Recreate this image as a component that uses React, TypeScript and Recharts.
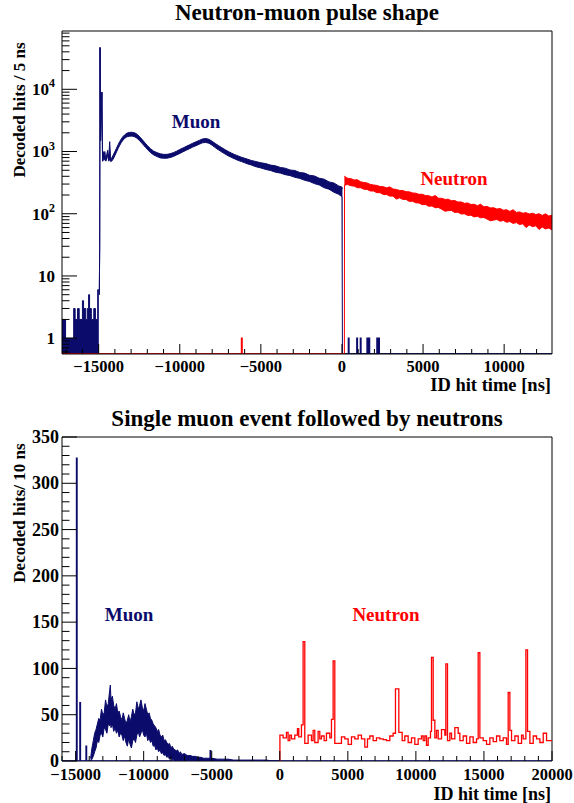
import React from "react";
import { ComposedChart, Area, Line, XAxis, YAxis, ReferenceArea } from "recharts";

const NAVY = "#0b0b6b";
const RED = "#ff0000";
const FONT = '"Liberation Serif", "Times New Roman", Times, serif';

// ---------- top panel: pulse shape, 5 ns bins, log scale ----------
const topXRange = [-17260, 12950];
const topYRange = [0.557, 86500];
const topXMajor = [-15000, -10000, -5000, 0, 5000, 10000];
const topXLabels = ["\u221215000", "\u221210000", "\u22125000", "0", "5000", "10000"];
const topYMajor = [1, 10, 100, 1000, 10000];
const topYLabels = ["1", "10", "10^2", "10^3", "10^4"];

// pre-trigger counts (filled histogram at the bottom)
const muLowT = [-17260, -17040, -16540, -16450, -16300, -16200, -16000, -15930, -15800, -15700, -15620, -15560, -15450, -15300, -15200, -15060, -14990];
const muLowHi = [2, 1, 3, 2, 3, 2, 4, 3, 2, 3, 5, 3, 2, 3, 2, 6, 6];

// muon pulse: band low / high edge
const muBandT = [
  -14960, -14935, -14915, -14880, -14800, -14760, -14720, -14680, -14620, -14560, -14500, -14440, -14380, -14320, -14260, -14200,
  -14100, -14000, -13900, -13800, -13700, -13600, -13500, -13400, -13300, -13200, -13100, -13000, -12900, -12800, -12700, -12600,
  -12500, -12400, -12300, -12200, -12100, -12000, -11800, -11600, -11400, -11200, -11000, -10800, -10600, -10400, -10200, -10000,
  -9800, -9600, -9400, -9200, -9000, -8800, -8600, -8400, -8200, -8000, -7800, -7600, -7400, -7200, -7000, -6800,
  -6600, -6400, -6200, -6000, -5800, -5600, -5400, -5200, -5000, -4700, -4400, -4100, -3800, -3500, -3200, -2900,
  -2600, -2300, -2000, -1700, -1400, -1100, -800, -500, -200, 0, 30,
];
const muBandLo = [
  5, 30, 47000, 1500, 9000, 700, 950, 720, 780, 700, 760, 900, 700, 760, 690, 700,
  760, 860, 980, 1120, 1260, 1400, 1520, 1620, 1700, 1740, 1760, 1770, 1760, 1730, 1680, 1600,
  1520, 1420, 1330, 1240, 1160, 1080, 960, 880, 830, 790, 780, 780, 800, 830, 880, 930,
  990, 1050, 1110, 1180, 1240, 1310, 1380, 1400, 1360, 1260, 1150, 1060, 980, 910, 850, 800,
  760, 720, 690, 660, 630, 610, 580, 560, 545, 515, 495, 465, 450, 425, 410, 385,
  370, 345, 330, 305, 290, 262, 248, 222, 205, 188, 0,
];
const muBandHi = [
  5, 30, 47000, 1500, 9000, 700, 1000, 800, 1000, 760, 900, 1050, 760, 1440, 760, 780,
  880, 1000, 1130, 1290, 1450, 1600, 1740, 1850, 1940, 2000, 2030, 2040, 2030, 2000, 1950, 1860,
  1760, 1650, 1540, 1430, 1340, 1250, 1110, 1010, 960, 920, 900, 900, 920, 960, 1010, 1080,
  1140, 1210, 1280, 1360, 1430, 1510, 1590, 1620, 1570, 1460, 1340, 1240, 1150, 1070, 1000, 940,
  890, 850, 810, 780, 750, 720, 700, 680, 660, 640, 605, 590, 555, 540, 505, 495,
  460, 450, 415, 405, 372, 360, 325, 312, 280, 268, 250,
];

// stray hits after the muon gate
const muTailT = [30, 400, 430, 920, 950, 1140, 1170, 1550, 1700, 2160, 2300, 12950];
const muTailHi = [0, 1, 0, 1, 0, 1, 0, 1, 0, 1, 0, 0];

// neutron histogram before the gate (empty except one hit)
const nuHeadT = [-17260, -6190, -6160, 150];
const nuHeadHi = [0, 1, 0, 0];

// neutron band
const nuBandT = [
  150, 160, 350, 550, 750, 950, 1150, 1350, 1550, 1750, 1950, 2150, 2350, 2550, 2750, 2950, 3150,
  3350, 3550, 3750, 3950, 4150, 4350, 4550, 4750, 4950, 5150, 5350, 5550, 5750, 5950, 6150, 6350,
  6550, 6750, 6950, 7150, 7350, 7550, 7750, 7950, 8150, 8350, 8550, 8750, 8950, 9150, 9350, 9550,
  9750, 9950, 10150, 10350, 10550, 10750, 10950, 11150, 11350, 11550, 11750, 11950, 12150, 12350, 12550, 12750,
  12950,
];
const nuBandLo = [
  0, 288, 295, 282, 278, 262, 262, 248, 246, 232, 232, 218, 218, 204, 204, 192, 192,
  172, 180, 170, 170, 158, 159, 150, 149, 140, 141, 132, 133, 125, 126, 118, 110,
  112, 113, 105, 106, 99, 100, 94, 95, 89, 91, 86, 87, 82, 77, 79, 81,
  76, 78, 73, 75, 70, 72, 67, 69, 60, 66, 62, 64, 56, 61, 57, 59,
  55,
];
const nuBandHi = [
  405, 398, 372, 366, 349, 352, 326, 318, 312, 296, 290, 285, 274, 272, 261, 270, 249,
  246, 237, 236, 226, 225, 216, 214, 205, 206, 196, 195, 186, 196, 178, 177, 170,
  171, 162, 163, 154, 155, 147, 149, 141, 142, 135, 142, 129, 131, 124, 125, 119,
  121, 114, 116, 109, 116, 105, 107, 102, 104, 99, 102, 97, 100, 94, 100, 92,
  95,
];

// ---------- bottom panel: single event, 10 ns bins, linear ----------
const botXRange = [-16000, 20000];
const botYRange = [0, 350];
const botXMajor = [-15000, -10000, -5000, 0, 5000, 10000, 15000, 20000];
const botXLabels = ["\u221215000", "\u221210000", "\u22125000", "0", "5000", "10000", "15000", "20000"];
const botYMajor = [0, 50, 100, 150, 200, 250, 300, 350];
const botYLabels = ["0", "50", "100", "150", "200", "250", "300", "350"];

const muEvtT = [-16000, -14930, -14900, -14680, -14650, -14230, -14200, -5110, -5080, 20000];
const muEvtV = [0, 327, 0, 63, 0, 16, 0, 11, 0, 0];

const muHumpT = [
  -13900, -13800, -13700, -13600, -13500, -13400, -13300, -13200, -13100, -13000, -12900, -12800, -12700, -12600, -12500, -12450,
  -12400, -12300, -12200, -12100, -12000, -11900, -11800, -11700, -11600, -11500, -11400, -11300, -11200, -11100, -11000, -10900,
  -10800, -10700, -10600, -10500, -10400, -10300, -10200, -10100, -10000, -9900, -9800, -9700, -9600, -9500, -9400, -9300,
  -9200, -9100, -9000, -8900, -8800, -8700, -8600, -8500, -8400, -8300, -8200, -8100, -8000, -7900, -7800, -7700,
  -7600, -7500, -7400, -7300, -7200, -7000, -6800, -6600, -6400, -6200, -6000, -5800, -5600, -5400, -5200, -5000,
  -4600, -4200, -3800, -3400, -3000, -2500, -2000, -1500, -1000, -500, 0,
];
const muHumpLo = [
  0, 2, 5, 10, 14, 22, 20, 28, 30, 26, 36, 34, 30, 40, 38, 42,
  36, 40, 32, 36, 30, 33, 26, 30, 28, 22, 27, 20, 16, 24, 18, 14,
  22, 24, 20, 28, 32, 26, 30, 34, 28, 26, 30, 22, 25, 20, 22, 16,
  17, 12, 14, 10, 12, 8, 9, 6, 7, 4, 5, 2, 3, 1, 2, 0,
  0, 0, 0, 0, 0, 0, 0, 0, 0, 0, 0, 0, 0, 0, 0, 0,
  0, 0, 0, 0, 0, 0, 0, 0, 0, 0, 0,
];
const muHumpHi = [
  3, 14, 22, 30, 34, 40, 46, 44, 56, 50, 52, 66, 58, 62, 76, 82,
  66, 70, 60, 56, 62, 52, 54, 48, 44, 52, 46, 40, 44, 50, 42, 48,
  56, 50, 52, 64, 56, 60, 66, 58, 54, 62, 56, 50, 52, 46, 44, 40,
  38, 36, 32, 34, 28, 26, 28, 22, 23, 20, 18, 19, 14, 16, 13, 12,
  11, 12, 8, 10, 7, 8, 6, 6, 5, 5, 4, 4, 3, 3, 3, 3,
  2, 2, 2, 1, 1, 1, 1, 1, 1, 0, 0,
];

const nuEvtT = [
  0, 10, 245, 490, 612, 735, 857, 1102, 1298, 1396, 1592, 1715, 1837, 2082, 2327, 2450, 2572, 2817, 2940, 3062,
  3258, 3430, 3675, 3797, 3920, 4042, 4532, 4777, 5022, 5267, 5512, 5757, 6002, 6247, 6443, 6615, 6860, 7105, 7350, 7595,
  7840, 8085, 8330, 8500, 8746, 8991, 9187, 9432, 9677, 9922, 10167, 10412, 10535, 10657, 10780, 10902, 11074, 11147, 11270, 11392,
  11515, 11637, 11882, 12127, 12201, 12323, 12495, 12617, 12862, 13107, 13230, 13475, 13720, 13965, 14210, 14455, 14577, 14700, 14945, 15190,
  15435, 15680, 15925, 16170, 16415, 16660, 16782, 16905, 17027, 17272, 17517, 17762, 17885, 18081, 18203, 18375, 18620, 18865, 19110, 19355,
  19600, 20000,
];
const nuEvtV = [
  0, 28, 25, 31, 22, 28, 24, 28, 35, 26, 39, 129, 19, 28, 22, 33, 20, 32, 24, 27,
  22, 30, 25, 45, 108, 19, 26, 24, 18, 26, 24, 28, 24, 15, 24, 27, 22, 25, 24, 23,
  22, 27, 30, 78, 31, 22, 27, 20, 25, 18, 24, 27, 22, 27, 17, 25, 32, 112, 44, 25,
  33, 24, 34, 28, 105, 22, 30, 24, 36, 30, 22, 27, 19, 26, 20, 24, 117, 25, 22, 18,
  25, 21, 27, 22, 25, 18, 74, 33, 22, 27, 19, 28, 24, 120, 32, 19, 27, 24, 20, 30,
  22, 22,
];

// ---------- helpers ----------
const floorLog = (v: number) => (v <= 0 ? topYRange[0] : v);
const rangeRows = (t: number[], lo: number[], hi: number[], fix = (v: number) => v) =>
  t.map((x, i) => ({ t: x, v: [fix(lo[i]), fix(hi[i])] }));
const stepRows = (t: number[], v: number[]) => t.map((x, i) => ({ t: x, v: v[i] }));

const linMinor = (a: number, b: number, step: number, majors: number[]) => {
  const out: number[] = [];
  for (let v = Math.ceil(a / step) * step; v <= b; v += step) if (!majors.includes(v)) out.push(v);
  return out;
};
const logMinor = (a: number, b: number) => {
  const out: number[] = [];
  for (let d = 0.1; d < b; d *= 10)
    for (let k = 2; k <= 9; k++) {
      const v = +(d * k).toPrecision(3);
      if (v >= a && v <= b) out.push(v);
    }
  return out;
};

const fontStyle = { fontFamily: FONT, fontWeight: 700 } as const;

const xTick = (majors: number[], labels: string[], len: number, fs: number, dy: number) => (p: any) => {
  const i = majors.indexOf(p.payload.value);
  return (
    <g>
      <line x1={p.x} x2={p.x} y1={p.y} y2={p.y - (i >= 0 ? len : len / 2)} stroke="#000" />
      {i >= 0 && (
        <text x={p.x} y={p.y + dy} textAnchor="middle" fontSize={fs} fill="#000" style={fontStyle}>
          {labels[i]}
        </text>
      )}
    </g>
  );
};

const yTick = (majors: number[], labels: string[], len: number, fs: number, gap: number) => (p: any) => {
  const i = majors.indexOf(p.payload.value);
  const lab = i >= 0 ? labels[i].split("^") : null;
  return (
    <g>
      <line x1={p.x} x2={p.x + (i >= 0 ? len : len / 2)} y1={p.y} y2={p.y} stroke="#000" />
      {lab && (
        <text x={p.x - gap} y={p.y + fs * 0.34} textAnchor="end" fontSize={fs} fill="#000" style={fontStyle}>
          {lab[0]}
          {lab[1] && (
            <tspan dy={-fs * 0.45} fontSize={fs * 0.7}>
              {lab[1]}
            </tspan>
          )}
        </text>
      )}
    </g>
  );
};

const TopPanel = () => {
  const xt = [...topXMajor, ...linMinor(topXRange[0], topXRange[1], 1000, topXMajor)];
  const yt = [...topYMajor, ...logMinor(topYRange[0], topYRange[1])];
  return (
    <ComposedChart width={574} height={400} margin={{ top: 31, right: 22, bottom: 16, left: 0 }}>
      <XAxis
        type="number"
        dataKey="t"
        domain={topXRange}
        allowDataOverflow
        ticks={xt}
        interval={0}
        tickSize={0}
        tickMargin={0}
        tickLine={false}
        axisLine={false}
        height={30}
        tick={xTick(topXMajor, topXLabels, 10, 16.5, 17.5)}
      />
      <YAxis
        type="number"
        scale="log"
        domain={topYRange}
        allowDataOverflow
        ticks={yt}
        interval={0}
        tickSize={0}
        tickMargin={0}
        tickLine={false}
        axisLine={false}
        width={62}
        tick={yTick(topYMajor, topYLabels, 15, 17, 7)}
      />
      <Area data={rangeRows(muLowT, muLowT.map(() => 0), muLowHi, floorLog)} dataKey="v" type="stepAfter"
        stroke={NAVY} strokeWidth={1} fill={NAVY} fillOpacity={1} isAnimationActive={false} dot={false} activeDot={false} />
      <Area data={rangeRows(muBandT, muBandLo, muBandHi, floorLog)} dataKey="v" type="linear"
        stroke={NAVY} strokeWidth={1} fill={NAVY} fillOpacity={1} isAnimationActive={false} dot={false} activeDot={false} />
      <Area data={rangeRows(muTailT, muTailT.map(() => 0), muTailHi, floorLog)} dataKey="v" type="stepAfter"
        stroke={NAVY} strokeWidth={1.5} fill={NAVY} fillOpacity={1} isAnimationActive={false} dot={false} activeDot={false} />
      <Area data={rangeRows(nuHeadT, nuHeadT.map(() => 0), nuHeadHi, floorLog)} dataKey="v" type="stepAfter"
        stroke={RED} strokeWidth={1.5} fill={RED} fillOpacity={1} isAnimationActive={false} dot={false} activeDot={false} />
      <Area data={rangeRows(nuBandT, nuBandLo, nuBandHi, floorLog)} dataKey="v" type="linear"
        stroke={RED} strokeWidth={1} fill={RED} fillOpacity={1} isAnimationActive={false} dot={false} activeDot={false} />
      <ReferenceArea x1={topXRange[0]} x2={topXRange[1]} y1={topYRange[0]} y2={topYRange[1]}
        fill="none" stroke="#000" strokeWidth={1} ifOverflow="visible" />
    </ComposedChart>
  );
};

const BottomPanel = () => {
  const xt = [...botXMajor, ...linMinor(botXRange[0], botXRange[1], 1000, botXMajor)];
  const yt = [...botYMajor, ...linMinor(botYRange[0], botYRange[1], 10, botYMajor)];
  return (
    <ComposedChart width={574} height={403} margin={{ top: 37, right: 22, bottom: 12, left: 0 }}>
      <XAxis
        type="number"
        dataKey="t"
        domain={botXRange}
        allowDataOverflow
        ticks={xt}
        interval={0}
        tickSize={0}
        tickMargin={0}
        tickLine={false}
        axisLine={false}
        height={30}
        tick={xTick(botXMajor, botXLabels, 10, 16.5, 18.5)}
      />
      <YAxis
        type="number"
        domain={botYRange}
        allowDataOverflow
        ticks={yt}
        interval={0}
        tickSize={0}
        tickMargin={0}
        tickLine={false}
        axisLine={false}
        width={62}
        tick={yTick(botYMajor, botYLabels, 15, 18, 3)}
      />
      <Area data={rangeRows(muHumpT, muHumpLo, muHumpHi)} dataKey="v" type="linear"
        stroke={NAVY} strokeWidth={1} fill={NAVY} fillOpacity={1} isAnimationActive={false} dot={false} activeDot={false} />
      <Line data={stepRows(muEvtT, muEvtV)} dataKey="v" type="stepAfter" stroke={NAVY} strokeWidth={1.5}
        dot={false} activeDot={false} isAnimationActive={false} />
      <Line data={stepRows(nuEvtT, nuEvtV)} dataKey="v" type="stepAfter" stroke={RED} strokeWidth={1.3}
        dot={false} activeDot={false} isAnimationActive={false} />
      <ReferenceArea x1={botXRange[0]} x2={botXRange[1]} y1={botYRange[0]} y2={botYRange[1]}
        fill="none" stroke="#000" strokeWidth={1} ifOverflow="visible" />
    </ComposedChart>
  );
};

export default function App() {
  return (
    <div style={{ position: "absolute", left: 0, top: 0, width: 574, height: 803, background: "#fff", fontFamily: FONT }}>
      <div style={{ position: "absolute", left: 0, top: 0 }}>
        <TopPanel />
      </div>
      <div style={{ position: "absolute", left: 0, top: 400 }}>
        <BottomPanel />
      </div>
      <svg width={574} height={803} style={{ position: "absolute", left: 0, top: 0, pointerEvents: "none" }}>
        <text x={307} y={20} textAnchor="middle" fontSize={23} style={fontStyle}>Neutron-muon pulse shape</text>
        <text x={551} y={391} textAnchor="end" fontSize={18.5} style={fontStyle}>ID hit time [ns]</text>
        <text transform="translate(25,110) rotate(-90)" textAnchor="middle" fontSize={17} style={fontStyle}>Decoded hits / 5 ns</text>
        <text x={196} y={128} textAnchor="middle" fontSize={19} fill={NAVY} style={fontStyle}>Muon</text>
        <text x={454} y={185} textAnchor="middle" fontSize={19} fill={RED} style={fontStyle}>Neutron</text>

        <text x={307} y={426} textAnchor="middle" fontSize={23} style={fontStyle}>Single muon event followed by neutrons</text>
        <text x={551} y={799.5} textAnchor="end" fontSize={18} style={fontStyle}>ID hit time [ns]</text>
        <text transform="translate(25,513) rotate(-90)" textAnchor="middle" fontSize={17} style={fontStyle}>Decoded hits/ 10 ns</text>
        <text x={129} y={621} textAnchor="middle" fontSize={19} fill={NAVY} style={fontStyle}>Muon</text>
        <text x={386} y={621} textAnchor="middle" fontSize={19} fill={RED} style={fontStyle}>Neutron</text>
      </svg>
    </div>
  );
}
